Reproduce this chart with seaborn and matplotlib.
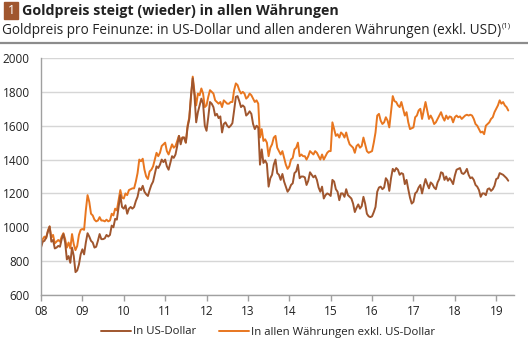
import numpy as np
import pandas as pd
import matplotlib
matplotlib.use("Agg")
import matplotlib.pyplot as plt
from matplotlib.patches import Rectangle
from matplotlib.lines import Line2D
import seaborn as sns

# Gold price per fine ounce, semi-monthly observations (1st and 15th of each month)
usd_2008 = [880, 915, 920, 940, 975, 1005, 915, 925, 875, 880, 890, 885, 930, 960, 910, 810, 830, 790, 880, 830, 735, 745, 780, 840]
usd_2009 = [870, 840, 910, 965, 945, 920, 910, 880, 885, 920, 960, 930, 930, 935, 955, 945, 955, 1010, 1000, 1050, 1045, 1120, 1190, 1120]
usd_2010 = [1110, 1130, 1080, 1110, 1120, 1110, 1120, 1155, 1180, 1230, 1220, 1245, 1210, 1195, 1185, 1220, 1250, 1270, 1315, 1360, 1350, 1370, 1400, 1385]
usd_2011 = [1400, 1360, 1340, 1380, 1420, 1410, 1430, 1480, 1540, 1490, 1530, 1530, 1500, 1590, 1640, 1780, 1880, 1780, 1620, 1680, 1720, 1760, 1730, 1600]
usd_2012 = [1570, 1650, 1740, 1730, 1710, 1660, 1670, 1645, 1655, 1560, 1610, 1620, 1600, 1590, 1600, 1615, 1690, 1770, 1775, 1745, 1710, 1720, 1710, 1660]
usd_2013 = [1670, 1685, 1670, 1610, 1580, 1600, 1590, 1370, 1460, 1380, 1395, 1375, 1240, 1290, 1310, 1370, 1400, 1320, 1310, 1280, 1315, 1270, 1240, 1210]
usd_2014 = [1225, 1250, 1260, 1320, 1330, 1370, 1290, 1300, 1300, 1295, 1250, 1275, 1325, 1310, 1295, 1305, 1280, 1235, 1210, 1240, 1170, 1190, 1200, 1195]
usd_2015 = [1185, 1280, 1270, 1225, 1210, 1160, 1200, 1200, 1180, 1225, 1190, 1180, 1170, 1140, 1090, 1115, 1135, 1110, 1125, 1180, 1140, 1080, 1065, 1060]
usd_2016 = [1065, 1090, 1120, 1210, 1235, 1240, 1225, 1235, 1290, 1275, 1215, 1290, 1345, 1330, 1350, 1340, 1310, 1320, 1315, 1255, 1280, 1225, 1175, 1140]
usd_2017 = [1150, 1200, 1210, 1235, 1250, 1200, 1245, 1285, 1255, 1230, 1265, 1255, 1235, 1225, 1265, 1285, 1325, 1320, 1280, 1300, 1275, 1290, 1275, 1255]
usd_2018 = [1305, 1340, 1345, 1350, 1320, 1315, 1325, 1345, 1310, 1290, 1295, 1280, 1250, 1240, 1220, 1180, 1200, 1200, 1190, 1225, 1230, 1215, 1225, 1245]
usd_2019 = [1285, 1290, 1320, 1315, 1310, 1300, 1290, 1275]

oth_2008 = [890, 930, 945, 935, 980, 1005, 940, 955, 905, 915, 925, 915, 945, 965, 930, 880, 910, 875, 960, 900, 865, 890, 955, 985]
oth_2009 = [990, 985, 1100, 1190, 1150, 1080, 1070, 1045, 1035, 1040, 1060, 1040, 1040, 1035, 1045, 1035, 1040, 1080, 1070, 1110, 1100, 1160, 1220, 1175]
oth_2010 = [1170, 1200, 1190, 1220, 1225, 1230, 1230, 1270, 1320, 1400, 1390, 1405, 1340, 1300, 1285, 1330, 1340, 1360, 1400, 1440, 1420, 1440, 1480, 1490]
oth_2011 = [1500, 1450, 1430, 1460, 1490, 1470, 1480, 1510, 1540, 1510, 1530, 1530, 1500, 1600, 1650, 1770, 1890, 1800, 1720, 1790, 1780, 1820, 1790, 1710]
oth_2012 = [1720, 1770, 1810, 1800, 1790, 1750, 1740, 1730, 1740, 1710, 1750, 1740, 1730, 1730, 1740, 1740, 1810, 1850, 1840, 1810, 1790, 1800, 1790, 1760]
oth_2013 = [1770, 1790, 1780, 1760, 1740, 1750, 1730, 1530, 1580, 1510, 1520, 1500, 1420, 1470, 1490, 1530, 1540, 1470, 1450, 1430, 1450, 1410, 1370, 1345]
oth_2014 = [1360, 1400, 1410, 1460, 1470, 1500, 1420, 1430, 1420, 1420, 1400, 1420, 1450, 1440, 1430, 1450, 1440, 1420, 1400, 1430, 1400, 1420, 1440, 1450]
oth_2015 = [1450, 1620, 1580, 1540, 1550, 1530, 1560, 1550, 1530, 1560, 1520, 1490, 1480, 1470, 1440, 1480, 1490, 1470, 1480, 1530, 1490, 1450, 1440, 1445]
oth_2016 = [1450, 1500, 1560, 1660, 1670, 1630, 1610, 1620, 1650, 1630, 1590, 1680, 1775, 1745, 1740, 1720, 1710, 1740, 1700, 1660, 1680, 1620, 1580, 1585]
oth_2017 = [1590, 1650, 1660, 1690, 1700, 1640, 1690, 1740, 1690, 1640, 1660, 1640, 1610, 1620, 1640, 1660, 1680, 1650, 1630, 1660, 1640, 1655, 1650, 1620]
oth_2018 = [1650, 1660, 1650, 1655, 1640, 1650, 1660, 1665, 1660, 1665, 1660, 1640, 1610, 1600, 1580, 1560, 1565, 1550, 1600, 1610, 1620, 1640, 1650, 1680]
oth_2019 = [1700, 1720, 1750, 1730, 1740, 1720, 1710, 1690]

years = list(range(2008, 2020))
tick_labels = ["08", "09", "10", "11", "12", "13", "14", "15", "16", "17", "18", "19"]
y_ticks = [600, 800, 1000, 1200, 1400, 1600, 1800, 2000]
series_names = ["In US-Dollar", "In allen Währungen exkl. US-Dollar"]

usd = (usd_2008 + usd_2009 + usd_2010 + usd_2011 + usd_2012 + usd_2013
       + usd_2014 + usd_2015 + usd_2016 + usd_2017 + usd_2018 + usd_2019)
oth = (oth_2008 + oth_2009 + oth_2010 + oth_2011 + oth_2012 + oth_2013
       + oth_2014 + oth_2015 + oth_2016 + oth_2017 + oth_2018 + oth_2019)

t = 2008 + np.arange(len(usd)) / 24.0
df = pd.DataFrame({
    "t": np.concatenate([t, t]),
    "value": usd + oth,
    "series": [series_names[0]] * len(usd) + [series_names[1]] * len(oth),
})

BROWN = "#A0562E"
ORANGE = "#E8761F"
TEXT = "#222222"

sns.set_theme(style="white")
plt.rcParams["font.family"] = ["Open Sans", "DejaVu Sans"]

fig = plt.figure(figsize=(5.28, 3.41), dpi=100)
W, H = 528, 341
ax = fig.add_axes([41 / W, 1 - 295 / H, 473 / W, (295 - 58) / H])

sns.lineplot(data=df, x="t", y="value", hue="series",
             palette={series_names[0]: BROWN, series_names[1]: ORANGE},
             hue_order=[series_names[1], series_names[0]],
             linewidth=1.4, legend=False, ax=ax)

ax.set_xlim(2008, 2019.43)
ax.set_ylim(600, 2000)
ax.set_yticks(y_ticks)
ax.set_yticklabels([str(v) for v in y_ticks])
ax.set_xticks(years)
ax.set_xticklabels(tick_labels)
ax.set_xlabel("")
ax.set_ylabel("")
ax.grid(axis="y", color="#d6d6d6", linewidth=1.0)
ax.set_axisbelow(True)
for side in ["top", "right"]:
    ax.spines[side].set_visible(False)
for side in ["left", "bottom"]:
    ax.spines[side].set_color("#a0a0a0")
    ax.spines[side].set_linewidth(1.0)
ax.tick_params(axis="x", length=4, width=1, color="#a0a0a0", labelsize=8.5,
               labelcolor=TEXT, pad=3, direction="out", bottom=True)
ax.tick_params(axis="y", length=0, labelsize=8.5, labelcolor=TEXT, pad=8)

# Header: numbered box, bold title, subtitle with footnote marker, rule
fig.patches.append(Rectangle((4 / W, 1 - 19 / H), 14 / W, 17 / H,
                             transform=fig.transFigure, color=BROWN, zorder=5))
fig.text(11 / W, 1 - 10.5 / H, "1", color="white", fontsize=9,
         ha="center", va="center", zorder=6)
fig.text(22 / W, 1 - 11 / H, "Goldpreis steigt (wieder) in allen Währungen",
         fontsize=10.3, fontweight="bold", color=TEXT, ha="left", va="center")
sub = fig.text(2 / W, 1 - 30 / H,
               "Goldpreis pro Feinunze: in US-Dollar und allen anderen Währungen (exkl. USD)",
               fontsize=9.8, color=TEXT, ha="left", va="center")
renderer = fig.canvas.get_renderer()
bb = sub.get_window_extent(renderer=renderer)
fig.text((bb.x1 + 0.5) / W, 1 - 26 / H, "(1)", fontsize=5.5, color=TEXT,
         ha="left", va="center")
fig.add_artist(Line2D([0, 1], [1 - 43 / H, 1 - 43 / H], transform=fig.transFigure,
                      color="#8c8c8c", linewidth=1.6))

handles = [Line2D([], [], color=BROWN, linewidth=1.4),
           Line2D([], [], color=ORANGE, linewidth=1.4)]
fig.legend(handles, series_names, loc="center", ncol=2, frameon=False,
           bbox_to_anchor=(268 / W, 1 - 332 / H), fontsize=8.2,
           handlelength=2.6, handletextpad=0.2, columnspacing=2.0,
           labelcolor=TEXT)

fig.savefig("out.png", dpi=100, facecolor="white")
